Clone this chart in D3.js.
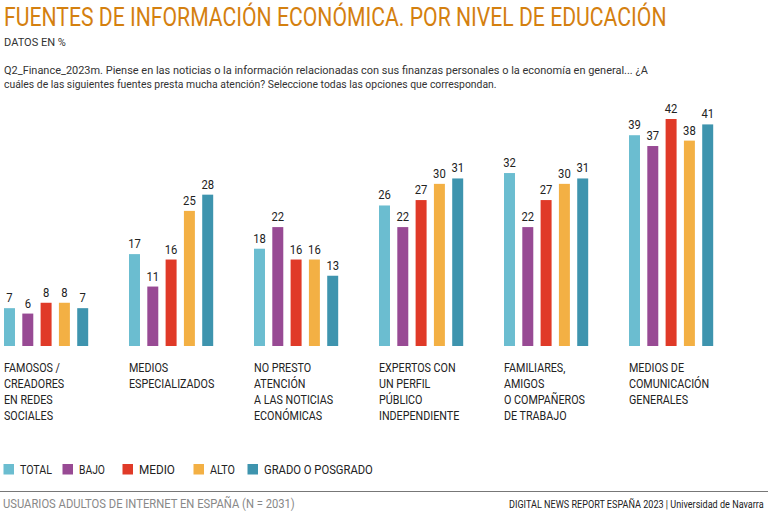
<!DOCTYPE html>
<html><head><meta charset="utf-8">
<script src="https://cdn.jsdelivr.net/npm/d3@7"></script>
<style>body{margin:0;background:#fff}svg{display:block;font-family:"Roboto","Noto Sans",sans-serif}</style>
</head><body><svg id="c" width="768" height="520"></svg>
<script>
const categories = [
  ["FAMOSOS /","CREADORES","EN REDES","SOCIALES"],
  ["MEDIOS","ESPECIALIZADOS"],
  ["NO PRESTO","ATENCIÓN","A LAS NOTICIAS","ECONÓMICAS"],
  ["EXPERTOS CON","UN PERFIL","PÚBLICO","INDEPENDIENTE"],
  ["FAMILIARES,","AMIGOS","O COMPAÑEROS","DE TRABAJO"],
  ["MEDIOS DE","COMUNICACIÓN","GENERALES"]
];
const seriesNames = ["TOTAL","BAJO","MEDIO","ALTO","GRADO O POSGRADO"];
const total  = [7,17,18,26,32,39];
const bajo   = [6,11,22,22,22,37];
const medio  = [8,16,16,27,27,42];
const alto   = [8,25,16,30,30,38];
const grado  = [7,28,13,31,31,41];
const colors = ["#6bbdd0","#984a94","#e03a28","#f3b044","#3e94ae"];
const seriesValues = [total,bajo,medio,alto,grado];

const svg = d3.select("#c");
const orange = "#d4800f";

// text squeezed horizontally to a target width (condensed look)
function fitText(parent, x, y, str, size, width, attrs) {
  const g = parent.append("g").attr("transform", `translate(${x},${y})`);
  const t = g.append("text").attr("x",0).attr("y",0).attr("font-size",size).text(str);
  Object.entries(attrs||{}).forEach(([k,v])=>t.attr(k,v));
  const w = t.node().getComputedTextLength();
  const s = width / w;
  t.attr("transform", `scale(${s},1)`);
  return t;
}

fitText(svg, 4, 26, "FUENTES DE INFORMACIÓN ECONÓMICA. POR NIVEL DE EDUCACIÓN", 25, 663, {fill:orange});
fitText(svg, 4, 46, "DATOS EN %", 11.5, 62, {fill:"#333"});
const q = ["Q2_Finance_2023m. Piense en las noticias o la información relacionadas con sus finanzas personales o la economía en general... ¿A",
  "cuáles de las siguientes fuentes presta mucha atención? Seleccione todas las opciones que correspondan."];
fitText(svg, 4, 74, q[0], 11.5, 645, {fill:"#333"});
fitText(svg, 4, 88, q[1], 11.5, 493, {fill:"#333"});

const idx = d3.range(categories.length);
const x0 = d3.scaleBand().domain(idx).range([4, 4+125*6]).paddingInner(0).paddingOuter(0);
const x1 = d3.scaleBand().domain(d3.range(5)).range([0, 84.2]).paddingInner(0.4).paddingOuter(0);
const y = d3.scaleLinear().domain([0,42]).range([346,119]);

const g = svg.append("g");
const groups = g.selectAll("g.grp").data(idx).join("g").attr("class","grp")
  .attr("transform", i => `translate(${x0(i)},0)`);

groups.each(function(i){
  const gg = d3.select(this);
  const data = seriesValues.map((s,k)=>({k, v:s[i]}));
  gg.selectAll("rect").data(data).join("rect")
    .attr("x", d=>x1(d.k)).attr("width", x1.bandwidth())
    .attr("y", d=>y(d.v)).attr("height", d=>y(0)-y(d.v))
    .attr("fill", d=>colors[d.k]);
  gg.selectAll("g.val").data(data).join("g").attr("class","val")
    .attr("transform", d=>`translate(${x1(d.k)+x1.bandwidth()/2},${y(d.v)-6}) scale(0.9,1)`)
    .append("text").attr("text-anchor","middle").attr("font-size",12.5).attr("fill","#222")
    .text(d=>d.v);
  const lg = gg.append("g").attr("transform","scale(0.86,1)");
  const lab = lg.append("text").attr("x",0).attr("y",372).attr("font-size",12.5).attr("fill","#222");
  categories[i].forEach((line,j)=>{
    lab.append("tspan").attr("x",0).attr("y",372+j*16).text(line);
  });
});

// Legend
const legT = [20,79,139,210,264];
const legW = [32,26,36,25,109];
const leg = svg.append("g");
seriesNames.forEach((n,k)=>{
  leg.append("rect").attr("x",legT[k]-16.5).attr("y",464).attr("width",10.5).attr("height",10.5).attr("fill",colors[k]);
  fitText(leg, legT[k], 474, n, 12.5, legW[k], {fill:"#222"});
});

svg.append("line").attr("x1",0).attr("x2",768).attr("y1",491.5).attr("y2",491.5)
  .attr("stroke","#777").attr("stroke-width",1.2);
fitText(svg, 3, 508, "USUARIOS ADULTOS DE INTERNET EN ESPAÑA (N = 2031)", 12.5, 292, {fill:"#888"});
fitText(svg, 509, 507.5, "DIGITAL NEWS REPORT ESPAÑA 2023 | Universidad de Navarra", 11, 255, {fill:"#222"});
</script></body></html>
